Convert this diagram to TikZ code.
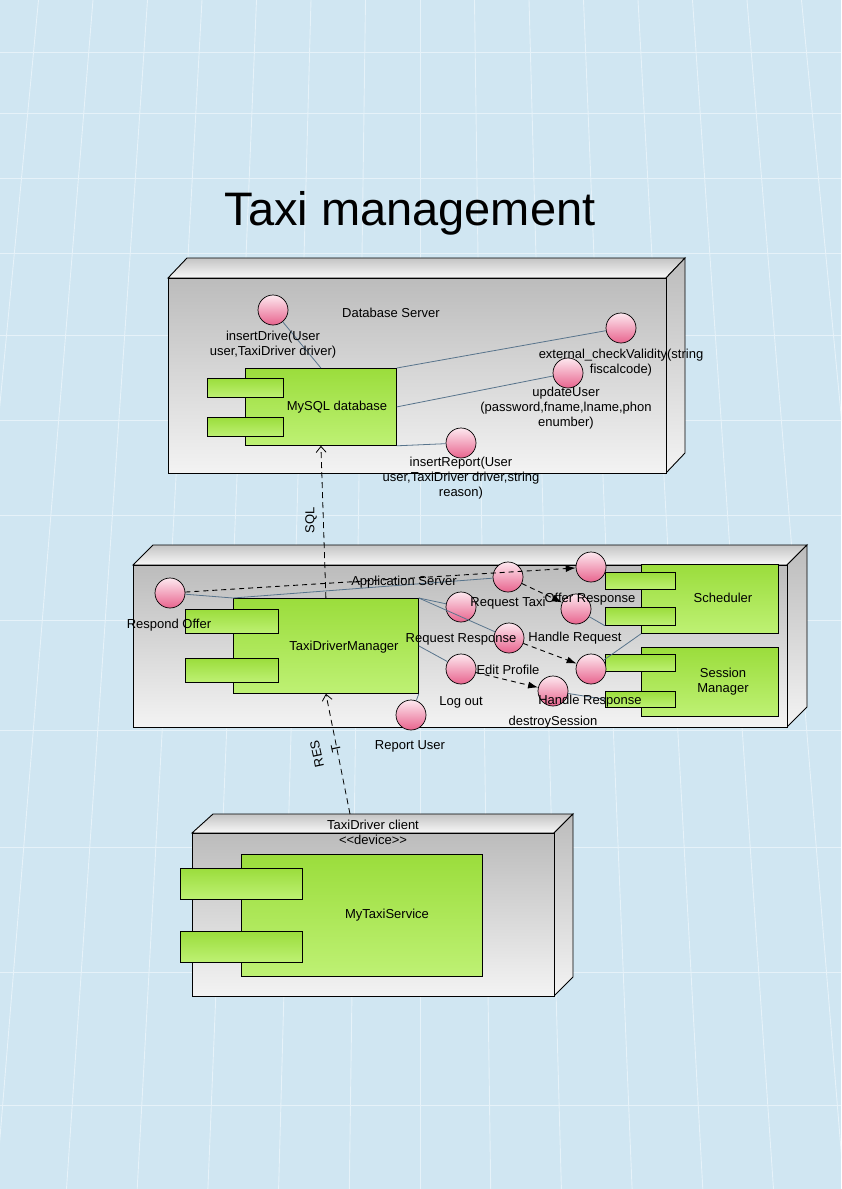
\documentclass[tikz,border=0pt]{standalone}
\usepackage{fontspec}
\setmainfont{Liberation Sans}
\usetikzlibrary{arrows.meta}
\definecolor{bgblue}{RGB}{208,230,242}
\definecolor{gridc}{RGB}{230,242,249}
\definecolor{faceTop}{RGB}{188,188,188}
\definecolor{faceBot}{RGB}{243,243,243}
\definecolor{topTop}{RGB}{196,196,196}
\definecolor{topBot}{RGB}{248,248,248}
\definecolor{greenTop}{RGB}{155,221,60}
\definecolor{greenBot}{RGB}{190,241,116}
\definecolor{pinkTop}{RGB}{253,232,239}
\definecolor{pinkBot}{RGB}{232,100,142}
\definecolor{conn}{RGB}{88,116,140}
\tikzset{
  gridline/.style={draw=gridc, line width=0.9pt},
  face/.style={draw=black, line width=0.9pt, top color=faceTop, bottom color=faceBot},
  topface/.style={draw=black, line width=0.9pt, top color=topTop, bottom color=topBot},
  comp/.style={draw=black, line width=0.8pt, top color=greenTop, bottom color=greenBot, inner sep=0pt, anchor=north west},
  iface/.style={circle, draw=black, line width=0.7pt, top color=pinkTop, bottom color=pinkBot, minimum size=30pt, inner sep=0pt},
  lbl/.style={align=center, inner sep=0pt},
  link/.style={draw=conn, line width=0.8pt},
  dep/.style={draw=black, dash pattern=on 5pt off 4pt, line width=0.9pt, -{Latex[length=10pt,width=7pt]}},
  netlink/.style={draw=black, dash pattern=on 6pt off 4pt, line width=0.8pt, -{Straight Barb[length=6pt,width=10pt]}}
}
\begin{document}
\begin{tikzpicture}[x=1pt,y=-1pt, font=\fontsize{13}{15}\selectfont]
\useasboundingbox (0,0) rectangle (841,1189);
\fill[bgblue] (0,0) rectangle (841,1189);
\begin{scope}
\clip (0,0) rectangle (841,1189);
\foreach \k in {-14,...,14}
  \draw[gridline] ({420+54.5*\k},0) -- ({420+54.5*\k*(1+1189/4000)},1189);
\foreach \yy in {52,113,178,253,335,420,515,620,730,847,972,1105}
  \draw[gridline] (0,\yy) -- (841,\yy);
\end{scope}

% title
\node[anchor=base, inner sep=0pt, font=\fontsize{47}{50}\selectfont] (title) at (410,225) {Taxi management};

% ---------- Database server ----------
\shadedraw[topface] (168,278) -- (187,258) -- (685,258) -- (666,278) -- cycle;
\shadedraw[face] (666,278) -- (685,258) -- (685,453) -- (666,473) -- cycle;
\shadedraw[face] (168,278) rectangle (666,473);
\node[lbl] (dbl) at (391,313) {Database Server};

\node[comp, minimum width=151pt, minimum height=77pt] (mysql) at (245,368) {};
\node[comp, minimum width=76pt, minimum height=19pt] (mp1) at (207,378) {};
\node[comp, minimum width=76pt, minimum height=19pt] (mp2) at (207,417) {};
\node[lbl] (mysqll) at (337,407) {MySQL database};

\node[iface] (insdrive) at (273,310) {};
\node[iface] (ecv) at (621,328) {};
\node[iface] (upd) at (568,373) {};
\node[iface] (insrep) at (461,443) {};

\draw[link] (insdrive) -- (mysql.north);
\draw[link] (mysql.north east) -- (ecv);
\draw[link] (mysql.east) -- (upd);
\draw[link] (mysql.south east) -- (insrep);

\node[lbl, anchor=north] (insdrivel) at (273,331) {insertDrive(User\\user,TaxiDriver driver)};
\node[lbl, anchor=north] (ecvl) at (621,349) {external\_checkValidity(string\\fiscalcode)};
\node[lbl, anchor=north] (updl) at (566,387) {updateUser\\(password,fname,lname,phon\\enumber)};
\node[lbl, anchor=north] (insrepl) at (461,457) {insertReport(User\\user,TaxiDriver driver,string\\reason)};

% ---------- Application server ----------
\shadedraw[topface] (133,565) -- (153,545) -- (807,545) -- (787,565) -- cycle;
\shadedraw[face] (787,565) -- (807,545) -- (807,707) -- (787,727) -- cycle;
\shadedraw[face] (133,565) rectangle (787,727);

\node[comp, minimum width=185pt, minimum height=95pt] (tdm) at (233,598) {};
\node[comp, minimum width=93pt, minimum height=24pt] (tp1) at (185,609) {};
\node[comp, minimum width=93pt, minimum height=24pt] (tp2) at (185,658) {};
\node[lbl] (tdml) at (344,647) {TaxiDriverManager};

\node[comp, minimum width=137pt, minimum height=69pt] (sched) at (641,564) {};
\node[comp, minimum width=70pt, minimum height=17pt] (sp1) at (605,572) {};
\node[comp, minimum width=70pt, minimum height=18pt] (sp2) at (605,607) {};
\node[lbl] (schedl) at (723,598) {Scheduler};

\node[comp, minimum width=137pt, minimum height=69pt] (sess) at (641,647) {};
\node[comp, minimum width=70pt, minimum height=17pt] (smp1) at (605,654) {};
\node[comp, minimum width=70pt, minimum height=16pt] (smp2) at (605,691) {};
\node[lbl, anchor=north] (sessl) at (723,668) {Session\\Manager};

\node[iface] (respond) at (170,593) {};
\node[iface] (reqtaxi) at (508,577) {};
\node[iface] (offresp) at (591,567) {};
\node[iface] (reqresp) at (461,607) {};
\node[iface] (handreq) at (576,609) {};
\node[iface] (editprof) at (509,638) {};
\node[iface] (handresp) at (591,669) {};
\node[iface] (logout) at (461,669) {};
\node[iface] (destroy) at (553,691) {};
\node[iface] (report) at (411,715) {};

\draw[link] (respond) -- (tdm.north west);
\draw[link] (tdm.north west) -- (reqtaxi);
\draw[link] (tdm.north east) -- (reqresp);
\draw[link] (tdm.north east) -- (editprof);
\draw[link] (tdm.east) -- (logout);
\draw[link] (tdm.south east) -- (report);
\draw[link] (handreq) -- (sp2.south west);
\draw[link] (handresp) -- (sched.south west);
\draw[link] (destroy) -- (smp2.west);

\draw[dep] (respond) -- (offresp);
\draw[dep] (reqtaxi) -- (handreq);
\draw[dep] (editprof) -- (handresp);
\draw[dep] (logout) -- (destroy);

\node[lbl] (appl) at (404,582) {Application Server};
\node[lbl] (respondl) at (169,625) {Respond Offer};
\node[lbl] (reqtaxil) at (508,603) {Request Taxi};
\node[lbl] (offrespl) at (590,599) {Offer Response};
\node[lbl] (reqrespl) at (461,639) {Request Response};
\node[lbl] (handreql) at (575,638) {Handle Request};
\node[lbl] (editprofl) at (508,670) {Edit Profile};
\node[lbl] (logoutl) at (461,702) {Log out};
\node[lbl] (handrespl) at (590,701) {Handle Response};
\node[lbl] (destroyl) at (553,722) {destroySession};
\node[lbl] (reportl) at (410,746) {Report User};

% ---------- Client ----------
\shadedraw[topface] (192,833) -- (213,814) -- (573,814) -- (554,833) -- cycle;
\shadedraw[face] (554,833) -- (573,814) -- (573,977) -- (554,996) -- cycle;
\shadedraw[face] (192,833) rectangle (554,996);
\node[lbl] (clientl) at (373,825) {TaxiDriver client};
\node[lbl] (devl) at (373,840) {{<}{<}device{>}{>}};

\node[comp, minimum width=241pt, minimum height=122pt] (mts) at (241,854) {};
\node[comp, minimum width=122pt, minimum height=31pt] (mtp1) at (180,868) {};
\node[comp, minimum width=122pt, minimum height=31pt] (mtp2) at (180,931) {};
\node[lbl] (mtsl) at (387,915) {MyTaxiService};

% ---------- Network links ----------
\coordinate (restsrc) at (350,814);
\draw[netlink] (tdm.north) -- (mysql.south);
\draw[netlink] (restsrc) -- (tdm.south);
\node[lbl, rotate=90] (sqll) at (311,520) {SQL};
\node[lbl, rotate=102] (restl1) at (317,754) {RES};
\node[lbl, rotate=102] (restl2) at (336,749) {T};
\end{tikzpicture}
\end{document}
